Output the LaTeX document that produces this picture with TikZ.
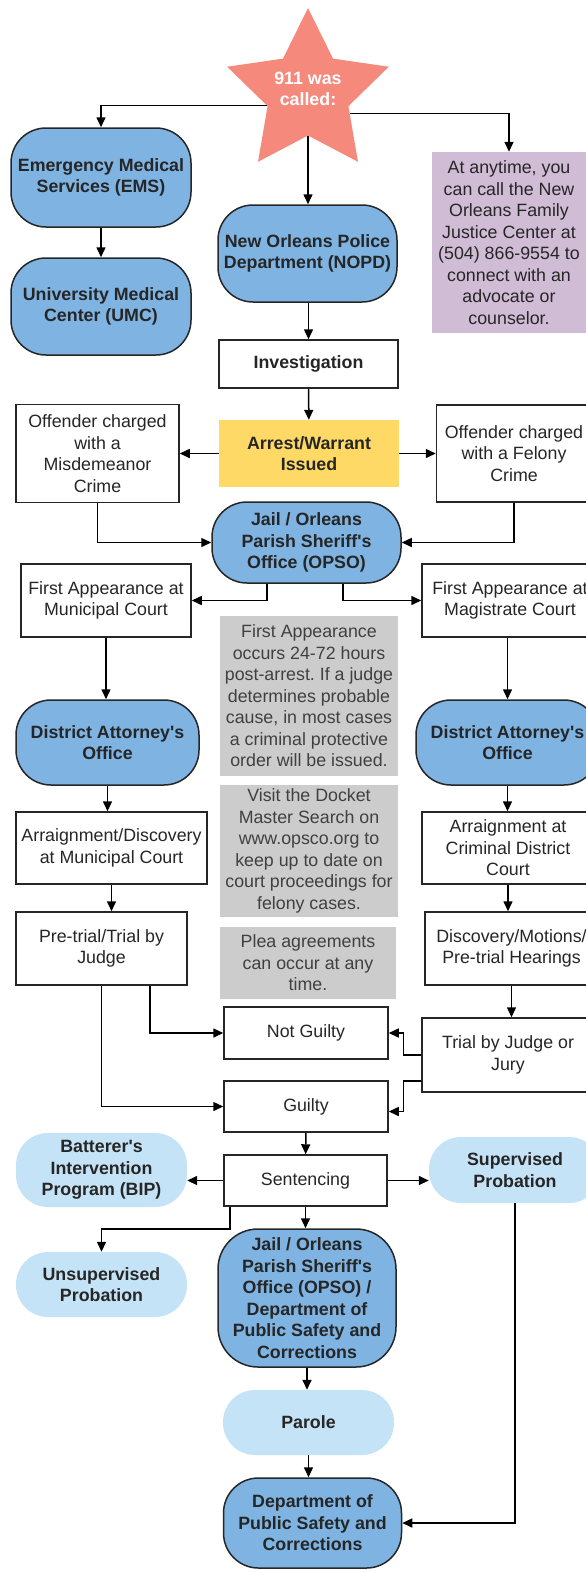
\documentclass[tikz,border=0pt]{standalone}
\usepackage{fontspec}
\setmainfont{Liberation Sans}
\usetikzlibrary{shapes,arrows.meta}

\definecolor{agencyblue}{RGB}{126,179,226}
\definecolor{outcomeblue}{RGB}{197,227,246}
\definecolor{starred}{RGB}{244,137,124}
\definecolor{warrantyellow}{RGB}{255,217,102}
\definecolor{infopurple}{RGB}{209,188,214}
\definecolor{notegrey}{RGB}{204,204,204}

\newcommand{\apos}{\textquotesingle}

\begin{document}
\frenchspacing
\begin{tikzpicture}[
    x=1pt, y=-1pt,
    txt/.style={font=\fontsize{17.8}{21.5}\selectfont, align=center, inner sep=2pt, text=black!85},
    agency/.style={txt, rectangle, draw=black!85, line width=1.5pt, fill=agencyblue, rounded corners=35pt, font=\fontsize{17.8}{21.5}\selectfont\bfseries},
    outcome/.style={txt, rectangle, fill=outcomeblue, rounded corners=32pt, font=\fontsize{17.8}{21.5}\selectfont\bfseries},
    stepbox/.style={txt, rectangle, draw=black!85, line width=1.5pt, fill=white},
    note/.style={txt, rectangle, fill=notegrey, text=black!75},
    arrow/.style={line width=1.5pt, ->, >={Triangle[length=10pt, width=9pt]}}
]
\useasboundingbox (0,0) rectangle (586,1572);

% Define nodes from top to bottom
\node [star, star points=5, star point ratio=2, minimum size=170pt, inner sep=0pt, fill=starred,
       label={[text=white, align=center, yshift=4pt, font=\fontsize{17.8}{21.5}\selectfont\bfseries]center:911 was\\called:}] (call) at (308,93) {};

\node [agency, minimum width=180pt, minimum height=99pt] (ems) at (101,177.5) {Emergency Medical\\Services (EMS)};
\node [agency, minimum width=180pt, minimum height=97pt] (umc) at (101,306.5) {University Medical\\Center (UMC)};
\node [agency, minimum width=179pt, minimum height=97pt] (nopd) at (307.5,253.5) {New Orleans Police\\Department (NOPD)};
\node [txt, fill=infopurple, minimum width=154pt, minimum height=181pt] (info) at (509,242.5) {At anytime, you\\can call the New\\Orleans Family\\Justice Center at\\(504) 866-9554 to\\connect with an\\advocate or\\counselor.};
\node [stepbox, minimum width=179pt, minimum height=48pt, font=\fontsize{17.8}{21.5}\selectfont\bfseries] (invest) at (308.5,364) {Investigation};

\node [txt, fill=warrantyellow, minimum width=180pt, minimum height=67pt, font=\fontsize{17.8}{21.5}\selectfont\bfseries] (arrest) at (309,453.5) {Arrest/Warrant\\Issued};
\node [stepbox, minimum width=163pt, minimum height=98pt] (misd) at (97.5,453.5) {Offender charged\\with a\\Misdemeanor\\Crime};
\node [stepbox, minimum width=155pt, minimum height=97pt] (felony) at (514,453.5) {Offender charged\\with a Felony\\Crime};
\node [agency, minimum width=189pt, minimum height=81pt] (opso) at (306.5,542.5) {Jail / Orleans\\Parish Sheriff\apos s\\Office (OPSO)};

\node [stepbox, minimum width=170pt, minimum height=73pt] (muni) at (106,600.5) {First Appearance at\\Municipal Court};
\node [stepbox, minimum width=176pt, minimum height=73pt] (magis) at (510,600.5) {First Appearance at\\Magistrate Court};
\node [note, minimum width=178pt, minimum height=160pt] (firstnote) at (309,696) {First Appearance\\occurs 24-72 hours\\post-arrest. If a judge\\determines probable\\cause, in most cases\\a criminal protective\\order will be issued.};
\node [agency, minimum width=183pt, minimum height=85pt] (daleft) at (107.5,742.5) {District Attorney\apos s\\Office};
\node [agency, minimum width=183pt, minimum height=85pt] (daright) at (507.5,742.5) {District Attorney\apos s\\Office};

\node [stepbox, minimum width=191pt, minimum height=72pt] (arrleft) at (111.5,848) {Arraignment/Discovery\\at Municipal Court};
\node [note, minimum width=178pt, minimum height=132pt] (docketnote) at (309,851) {Visit the Docket\\Master Search on\\www.opsco.org to\\keep up to date on\\court proceedings for\\felony cases.};
\node [stepbox, minimum width=172pt, minimum height=72pt] (arrright) at (508,848) {Arraignment at\\Criminal District\\Court};

\node [stepbox, minimum width=171pt, minimum height=73pt] (pretrial) at (101.5,948.5) {Pre-trial/Trial by\\Judge};
\node [note, minimum width=176pt, minimum height=72pt] (pleanote) at (308,963) {Plea agreements\\can occur at any\\time.};
\node [stepbox, minimum width=173pt, minimum height=73pt] (motions) at (511.5,948.5) {Discovery/Motions/\\Pre-trial Hearings};

\node [stepbox, minimum width=172pt, minimum height=74pt] (trial) at (508,1055) {Trial by Judge or\\Jury};
\node [stepbox, minimum width=164pt, minimum height=52pt] (notguilty) at (306,1033) {Not Guilty};
\node [stepbox, minimum width=164pt, minimum height=51pt] (guilty) at (306,1106.5) {Guilty};

\node [stepbox, minimum width=163pt, minimum height=51pt] (sentence) at (305.5,1180.5) {Sentencing};
\node [outcome, minimum width=171pt, minimum height=74pt] (bip) at (101.5,1170) {Batterer\apos s\\Intervention\\Program (BIP)};
\node [outcome, minimum width=172pt, minimum height=66pt] (supervised) at (515,1170) {Supervised\\Probation};
\node [outcome, minimum width=171pt, minimum height=65pt] (unsupervised) at (101.5,1284.5) {Unsupervised\\Probation};
\node [agency, minimum width=178pt, minimum height=138pt, rounded corners=40pt] (jail) at (307,1298) {Jail / Orleans\\Parish Sheriff\apos s\\Office (OPSO) /\\Department of\\Public Safety and\\Corrections};
\node [outcome, minimum width=171pt, minimum height=65pt] (parole) at (308.5,1422.5) {Parole};
\node [agency, minimum width=178pt, minimum height=90pt] (dpsc) at (312.5,1523) {Department of\\Public Safety and\\Corrections};

% Draw arrows
\draw [arrow] (call.197) -| (ems);
\draw [arrow] (call) -- (call |- nopd.north);
\draw [arrow] (call.334) -| (info);
\draw [arrow] (ems) -- (umc);
\draw [arrow] (invest |- nopd.south) -- (invest);
\draw [arrow] (invest) -- (arrest);
\draw [arrow] (arrest) -- (misd);
\draw [arrow] (arrest) -- (felony);
\draw [arrow] (misd) |- (opso);
\draw [arrow] (felony) |- (opso);
\draw [arrow] ([xshift=-39.5pt]opso.south) |- (muni);
\draw [arrow] ([xshift=36.5pt]opso.south) |- (magis);
\draw [arrow] (muni) -- (muni |- daleft.north);
\draw [arrow] (daright |- magis.south) -- (daright);
\draw [arrow] (daleft) -- (daleft |- arrleft.north);
\draw [arrow] (daright) -- (daright |- arrright.north);
\draw [arrow] (arrleft) -- (arrleft |- pretrial.north);
\draw [arrow] (arrright) -- (arrright |- motions.north);
\draw [arrow] (motions) -- (motions |- trial.north);
\draw [arrow] ([xshift=48.5pt]pretrial.south) |- (notguilty);
\draw [arrow] (pretrial) |- (guilty);
\draw [arrow] (trial.west) -- ++(-18,0) |- (notguilty);
\draw [arrow] ([yshift=-26pt]trial.west) -- ++(-18,0) |- ([yshift=-5pt]guilty.east);
\draw [arrow] (guilty) -- (sentence);
\draw [arrow] (sentence.west) -- (sentence.west -| bip.east);
\draw [arrow] (sentence.east) -- (sentence.east -| supervised.west);
\draw [arrow] ([xshift=-75.5pt]sentence.south) -- ++(0,22) -| (unsupervised);
\draw [arrow] (sentence) -- (sentence |- jail.north);
\draw [arrow] (jail) -- (jail |- parole.north);
\draw [arrow] (parole) -- (parole |- dpsc.north);
\draw [arrow] (supervised) |- (dpsc);

\end{tikzpicture}
\end{document}
